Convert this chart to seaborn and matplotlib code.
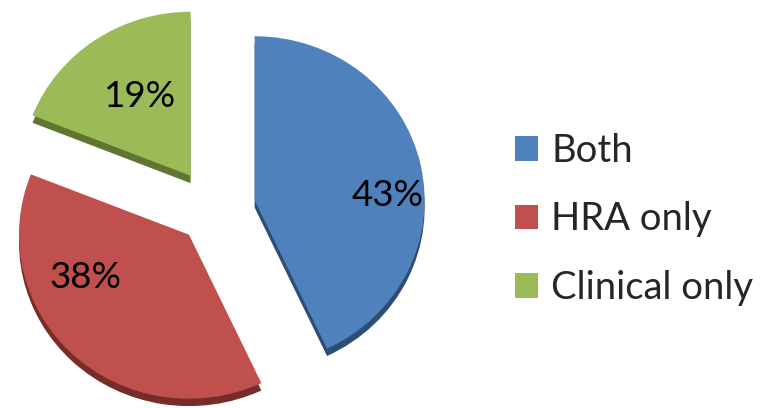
import matplotlib
matplotlib.use("Agg")
import matplotlib.pyplot as plt
import seaborn as sns

# Share of respondents by screening source
categories = ["Both", "HRA only", "Clinical only"]
shares = [43, 38, 19]

sns.set_theme(style="white")
plt.rcParams["font.family"] = ["Lato", "DejaVu Sans"]

face_colors = ["#4F81BD", "#C0504D", "#9BBB59"]
side_colors = ["#2C4D75", "#772C2A", "#5F7530"]
explode = [0.245, 0.215, 0.245]

fig = plt.figure(figsize=(7.61, 4.08), dpi=100)
ax = fig.add_axes([0, 0, 1, 1])

# darker copy shifted down gives the slices a little depth
ax.pie(shares, colors=side_colors, explode=explode, startangle=90,
       counterclock=False, center=(0, -0.045),
       wedgeprops=dict(linewidth=0))

wedges, texts, autotexts = ax.pie(
    shares, colors=face_colors, explode=explode, startangle=90,
    counterclock=False, autopct="%.0f%%",
    wedgeprops=dict(linewidth=0),
    textprops=dict(fontsize=26.5, color="black"))

# percentage label placement inside each slice
label_xy = [(1.024, 0.085), (-0.759, -0.415), (-0.435, 0.683)]
for t, xy in zip(autotexts, label_xy):
    t.set_position(xy)
    t.set_ha("center")
    t.set_va("center")

ax.set_aspect("auto")
ax.set_xlim(-214 / 170, (761 - 214) / 170)
ax.set_ylim(-199 / 164, 209 / 164)
ax.axis("off")

ax.legend(wedges, categories, loc="upper left",
          bbox_to_anchor=(515 / 761, 1 - 133 / 408),
          frameon=False, fontsize=27.5, handlelength=0.6, handleheight=0.6,
          handletextpad=0.35, labelspacing=0.85, borderpad=0,
          borderaxespad=0)

fig.savefig("out.png", dpi=100)
